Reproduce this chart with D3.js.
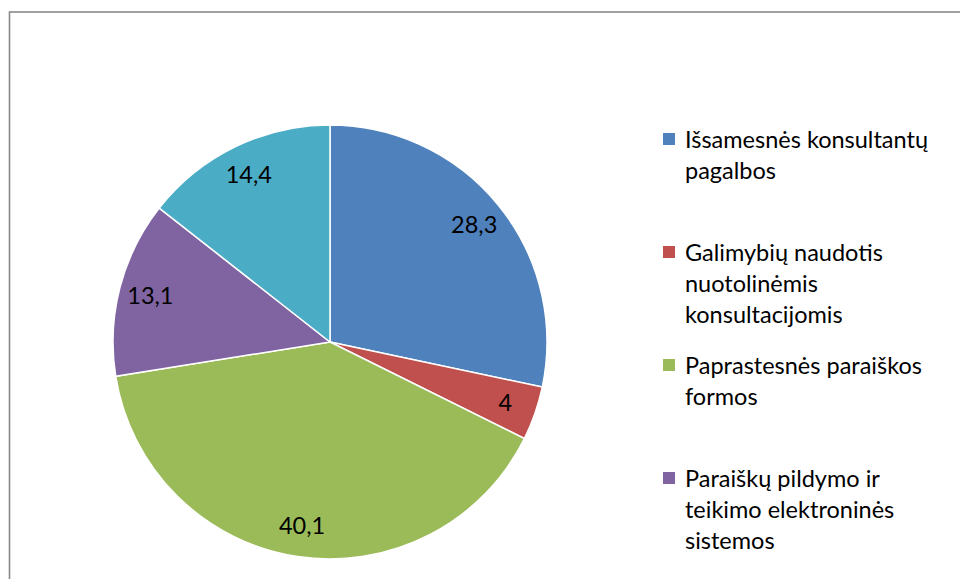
<!DOCTYPE html>
<html>
<head>
<meta charset="utf-8">
<script src="https://cdn.jsdelivr.net/npm/d3@7"></script>
<style>
  body { margin: 0; background: #fff; }
  svg { display: block; font-family: Lato, "Open Sans", sans-serif; }
</style>
</head>
<body>
<script>
// Duomenys
const categories = [
  "Išsamesnės konsultantų\npagalbos",
  "Galimybių naudotis\nnuotolinėmis\nkonsultacijomis",
  "Paprastesnės paraiškos\nformos",
  "Paraiškų pildymo ir\nteikimo elektroninės\nsistemos",
  "Kita"
];
const values = [28.3, 4, 40.1, 13.1, 14.4];
const colors = ["#4F81BD", "#C0504D", "#9BBB59", "#8064A2", "#4BACC6"];

const width = 960;
const height = 579;
const cx = 330, cy = 342, radius = 217;

const svg = d3.select("body")
  .append("svg")
  .attr("width", width)
  .attr("height", height);

// rėmelis
svg.append("rect")
  .attr("x", 9.5)
  .attr("y", 12)
  .attr("width", 1000)
  .attr("height", 700)
  .attr("fill", "none")
  .attr("stroke", "#898989")
  .attr("stroke-width", 1.6);

const data = values.map((v, i) => ({ name: categories[i], value: v, color: colors[i] }));

const pie = d3.pie().sort(null).value((d) => d.value);
const arc = d3.arc().innerRadius(0).outerRadius(radius);
const labelArc = d3.arc().innerRadius(radius * 0.855).outerRadius(radius * 0.855);

const g = svg.append("g").attr("transform", `translate(${cx},${cy})`);
const arcs = pie(data);

g.selectAll(".slice")
  .data(arcs)
  .enter()
  .append("path")
  .attr("class", "slice")
  .attr("d", arc)
  .attr("fill", (d) => d.data.color)
  .attr("stroke", "#fff")
  .attr("stroke-width", 1.5);

g.selectAll(".lbl")
  .data(arcs)
  .enter()
  .append("text")
  .attr("class", "lbl")
  .attr("transform", (d) => `translate(${labelArc.centroid(d)})`)
  .attr("text-anchor", "middle")
  .attr("dy", "0.35em")
  .style("font-size", "23.5px")
  .attr("fill", "#000")
  .text((d) => String(d.data.value).replace(".", ","));

// legenda - penktas įrašas nepatenka į matomą plotą
const legend = svg.append("g").attr("transform", "translate(663,148)");
const items = legend.selectAll(".item")
  .data(data.slice(0, 4))
  .enter()
  .append("g")
  .attr("class", "item")
  .attr("transform", (d, i) => `translate(0,${i * 113})`);

items.append("rect")
  .attr("x", 0)
  .attr("y", -15)
  .attr("width", 12)
  .attr("height", 12)
  .attr("fill", (d) => d.color);

items.append("text")
  .attr("x", 22)
  .style("font-size", "23.5px")
  .attr("fill", "#000")
  .selectAll("tspan")
  .data((d) => d.name.split("\n"))
  .enter()
  .append("tspan")
  .attr("x", 22)
  .attr("dy", (d, i) => (i === 0 ? 0 : 31))
  .text((d) => d);
</script>
</body>
</html>
